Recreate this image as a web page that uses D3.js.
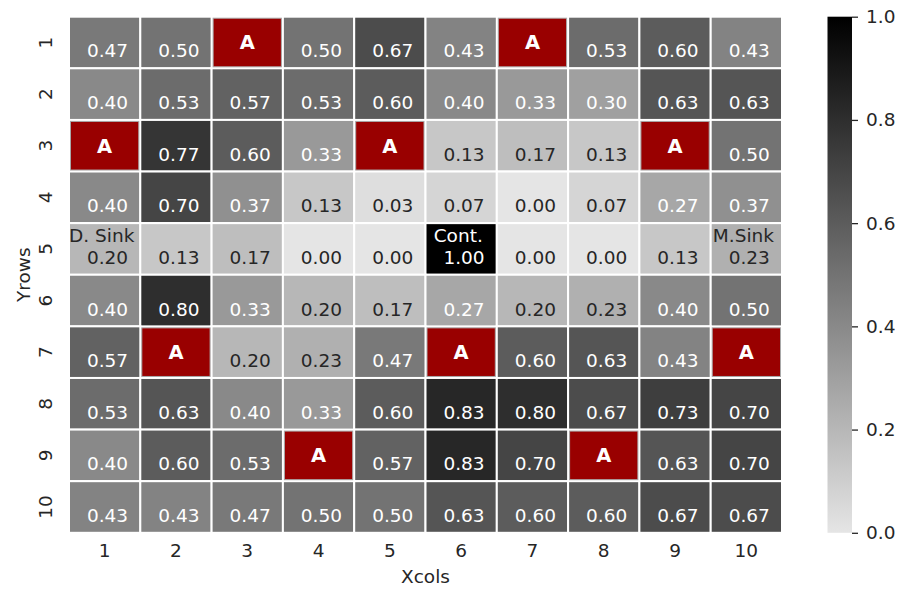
<!DOCTYPE html>
<html>
<head>
<meta charset="utf-8">
<script src="https://cdn.jsdelivr.net/npm/d3@7"></script>
<style>
  body { margin: 0; background: #fff; }
  text { font-family: "DejaVu Sans", sans-serif; }
</style>
</head>
<body>
<div id="chart"></div>
<script>
// tick labels for both axes
var xCols = ["1", "2", "3", "4", "5", "6", "7", "8", "9", "10"];
var yRows = ["1", "2", "3", "4", "5", "6", "7", "8", "9", "10"];

// cell values, row by row (null = obstacle "A")
var row1  = [0.47, 0.50, null, 0.50, 0.67, 0.43, null, 0.53, 0.60, 0.43];
var row2  = [0.40, 0.53, 0.57, 0.53, 0.60, 0.40, 0.33, 0.30, 0.63, 0.63];
var row3  = [null, 0.77, 0.60, 0.33, null, 0.13, 0.17, 0.13, null, 0.50];
var row4  = [0.40, 0.70, 0.37, 0.13, 0.03, 0.07, 0.00, 0.07, 0.27, 0.37];
var row5  = [0.20, 0.13, 0.17, 0.00, 0.00, 1.00, 0.00, 0.00, 0.13, 0.23];
var row6  = [0.40, 0.80, 0.33, 0.20, 0.17, 0.27, 0.20, 0.23, 0.40, 0.50];
var row7  = [0.57, null, 0.20, 0.23, 0.47, null, 0.60, 0.63, 0.43, null];
var row8  = [0.53, 0.63, 0.40, 0.33, 0.60, 0.83, 0.80, 0.67, 0.73, 0.70];
var row9  = [0.40, 0.60, 0.53, null, 0.57, 0.83, 0.70, null, 0.63, 0.70];
var row10 = [0.43, 0.43, 0.47, 0.50, 0.50, 0.63, 0.60, 0.60, 0.67, 0.67];
var rows = [row1, row2, row3, row4, row5, row6, row7, row8, row9, row10];

// named cells (row, col are labels)
var namedCells = [
    {row: "5", col: "1",  name: "D. Sink"},
    {row: "5", col: "6",  name: "Cont."},
    {row: "5", col: "10", name: "M.Sink"}
];
var obstacleLabel = "A";
var colorTicks = [0.0, 0.2, 0.4, 0.6, 0.8, 1.0];

var margin = {top: 16.7, right: 132, bottom: 60, left: 69};
var width = 914 - margin.left - margin.right;
var height = 593 - margin.top - margin.bottom - 0.2;
var fontSize = 18.5;

var svg = d3.select("#chart")
    .append("svg")
        .attr("width", 914)
        .attr("height", 593);

var g = svg.append("g")
    .attr("transform", "translate(" + margin.left + "," + margin.top + ")");

var x = d3.scaleBand().domain(xCols).range([0, width]);
var y = d3.scaleBand().domain(yRows).range([0, height]);
var color = d3.scaleLinear().domain([0, 1]).range(["#e5e5e5", "#000000"]);

// flatten the grid
var cells = [];
rows.forEach(function(vals, i) {
    vals.forEach(function(v, j) {
        cells.push({row: yRows[i], col: xCols[j], value: v});
    });
});
namedCells.forEach(function(n) {
    cells.forEach(function(c) {
        if (c.row === n.row && c.col === n.col) c.name = n.name;
    });
});

// seaborn style text colour from luminance
function textColor(v) {
    var c = d3.rgb(color(v));
    var lum = [c.r, c.g, c.b].map(function(k) {
        k = k / 255;
        return k <= 0.03928 ? k / 12.92 : Math.pow((k + 0.055) / 1.055, 2.4);
    });
    var l = 0.2126 * lum[0] + 0.7152 * lum[1] + 0.0722 * lum[2];
    return l > 0.408 ? "#262626" : "#ffffff";
}

var valueCells = cells.filter(function(d) { return d.value !== null; });
var obstacles = cells.filter(function(d) { return d.value === null; });

g.selectAll("rect.cell")
    .data(valueCells)
    .enter().append("rect")
        .attr("class", "cell")
        .attr("x", d => x(d.col))
        .attr("y", d => y(d.row))
        .attr("width", x.bandwidth())
        .attr("height", y.bandwidth())
        .attr("fill", d => color(d.value))
        .attr("stroke", "#ffffff")
        .attr("stroke-width", 2);

// obstacles
g.selectAll("rect.obst")
    .data(obstacles)
    .enter().append("rect")
        .attr("class", "obst")
        .attr("x", d => x(d.col) + 1.5)
        .attr("y", d => y(d.row) + 1.5)
        .attr("width", x.bandwidth() - 3)
        .attr("height", y.bandwidth() - 3)
        .attr("fill", "#990000")
        .attr("stroke", "#a8a8a8")
        .attr("stroke-width", 1);

g.selectAll("text.obst")
    .data(obstacles)
    .enter().append("text")
        .attr("class", "obst")
        .attr("x", d => x(d.col) + x.bandwidth() / 2)
        .attr("y", d => y(d.row) + y.bandwidth() / 2 + 7)
        .attr("text-anchor", "middle")
        .attr("font-weight", "bold")
        .attr("font-size", 19.5)
        .attr("fill", "#ffffff")
        .text(obstacleLabel);

// value annotations (second line of a two line label)
g.selectAll("text.val")
    .data(valueCells)
    .enter().append("text")
        .attr("class", "val")
        .attr("x", d => x(d.col) + x.bandwidth() / 2 + 2.9)
        .attr("y", d => y(d.row) + y.bandwidth() / 2 + 15)
        .attr("text-anchor", "middle")
        .attr("font-size", fontSize)
        .attr("fill", d => textColor(d.value))
        .text(d => d.value.toFixed(2));

g.selectAll("text.name")
    .data(valueCells.filter(d => d.name))
    .enter().append("text")
        .attr("class", "name")
        .attr("x", d => x(d.col) + x.bandwidth() / 2 - 2.9)
        .attr("y", d => y(d.row) + y.bandwidth() / 2 - 7)
        .attr("text-anchor", "middle")
        .attr("font-size", fontSize)
        .attr("fill", d => textColor(d.value))
        .text(d => d.name);

// axes
var xAxis = g.append("g")
    .attr("transform", "translate(0," + height + ")")
    .call(d3.axisBottom(x).tickSize(0).tickPadding(11));
xAxis.select(".domain").remove();
xAxis.selectAll("text")
    .attr("font-size", fontSize)
    .attr("fill", "#262626");

var yAxis = g.append("g")
    .call(d3.axisLeft(y).tickSize(0).tickPadding(0));
yAxis.select(".domain").remove();
yAxis.selectAll("text")
    .attr("font-size", fontSize)
    .attr("fill", "#262626")
    .attr("text-anchor", "middle")
    .attr("dy", null)
    .attr("x", null)
    .attr("transform", "translate(-17,0) rotate(-90)");

g.append("text")
    .attr("x", width / 2)
    .attr("y", height + 50)
    .attr("text-anchor", "middle")
    .attr("font-size", fontSize)
    .attr("fill", "#262626")
    .text("Xcols");

g.append("text")
    .attr("transform", "translate(" + (-39) + "," + (height / 2) + ") rotate(-90)")
    .attr("text-anchor", "middle")
    .attr("font-size", fontSize)
    .attr("fill", "#262626")
    .text("Yrows");

// colour bar
var cbX = 827.5, cbW = 24.5;
var cb = svg.append("g")
    .attr("transform", "translate(" + cbX + "," + margin.top + ")");
var cy = d3.scaleLinear().domain([0, 1]).range([height, 0]);

var grad = svg.append("defs").append("linearGradient")
    .attr("id", "cbgrad")
    .attr("x1", 0).attr("y1", 1).attr("x2", 0).attr("y2", 0);
grad.selectAll("stop")
    .data(d3.range(0, 1.0001, 0.1))
    .enter().append("stop")
        .attr("offset", d => d)
        .attr("stop-color", d => color(d));

cb.append("rect")
    .attr("width", cbW)
    .attr("height", height)
    .attr("fill", "url(#cbgrad)");

var cbAxis = cb.append("g")
    .attr("transform", "translate(" + cbW + ",0)")
    .call(d3.axisRight(cy).tickValues(colorTicks).tickFormat(d3.format(".1f")).tickSize(6).tickPadding(8));
cbAxis.select(".domain").remove();
cbAxis.selectAll("line").attr("stroke", "#262626").attr("stroke-width", 1.3);
cbAxis.selectAll("text")
    .attr("font-size", fontSize)
    .attr("fill", "#262626");
</script>
</body>
</html>
